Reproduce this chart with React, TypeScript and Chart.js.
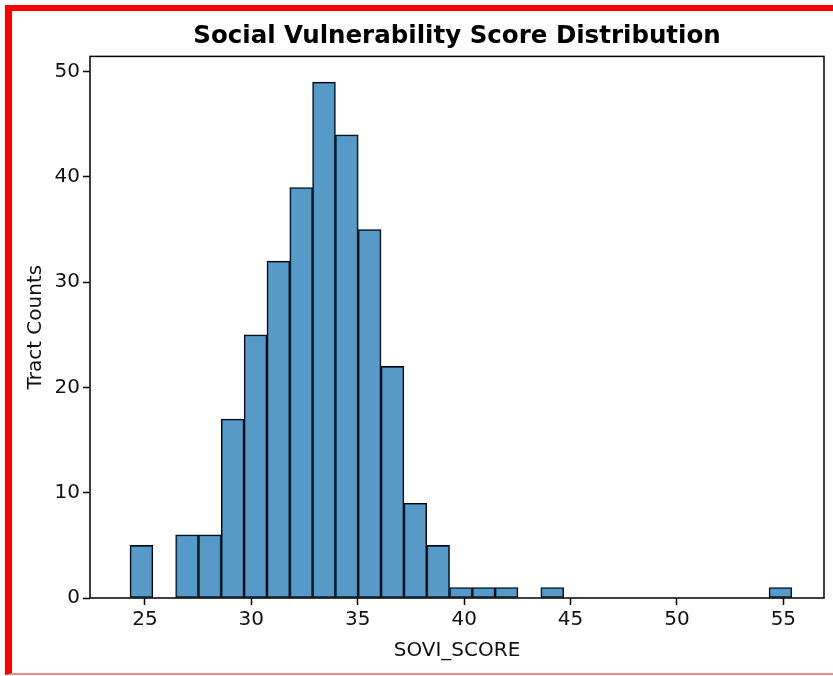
import React, { useEffect, useRef } from "react";
import { Chart, registerables } from "chart.js";

Chart.register(...registerables);

// Histogram data (29 equal-width bins between the min and max score)
const binMin = 24.3;
const binMax = 55.4;
const counts = [5, 0, 6, 6, 17, 25, 32, 39, 49, 44, 35, 22, 9, 5, 1, 1, 1, 0, 1, 0, 0, 0, 0, 0, 0, 0, 0, 0, 1];

const xTicks = [25, 30, 35, 40, 45, 50, 55];
const yTicks = [0, 10, 20, 30, 40, 50];
const xLimits = [22.42, 56.91];
const yLimits = [0, 51.45];

const titleText = "Social Vulnerability Score Distribution";
const xLabel = "SOVI_SCORE";
const yLabel = "Tract Counts";

const FONT = "'DejaVu Sans', 'Liberation Sans', sans-serif";

const framePlugin = {
  id: "frame",
  afterDatasetsDraw(chart: any) {
    const { ctx, chartArea: a } = chart;
    ctx.save();
    ctx.strokeStyle = "#000";
    ctx.lineWidth = 1.5;
    ctx.strokeRect(a.left, a.top, a.right - a.left, a.bottom - a.top);
    ctx.restore();
  },
};

export default function App() {
  const ref = useRef<HTMLCanvasElement | null>(null);

  useEffect(() => {
    if (!ref.current) return;
    const width = (binMax - binMin) / counts.length;
    const points = counts
      .map((c, i) => ({ x: binMin + (i + 0.5) * width, y: c }))
      .filter((p) => p.y > 0);

    const chart = new Chart(ref.current, {
      type: "bar",
      data: {
        datasets: [
          {
            data: points as any,
            backgroundColor: "rgba(31,119,180,0.75)",
            borderColor: "#000",
            borderWidth: 1.2,
            borderSkipped: false,
            barPercentage: 1,
            categoryPercentage: 1,
          },
        ],
      },
      options: {
        responsive: false,
        animation: false,
        layout: { padding: { left: 0, right: 9, top: 0, bottom: 0 } },
        plugins: {
          legend: { display: false },
          tooltip: { enabled: false },
          title: {
            display: true,
            fullSize: false,
            text: titleText,
            color: "#000",
            font: { family: FONT, size: 24.5, weight: "bold" },
            padding: { top: 22, bottom: 5 },
          },
        },
        scales: {
          x: {
            type: "linear",
            offset: false,
            min: xLimits[0],
            max: xLimits[1],
            afterBuildTicks: (scale: any) => {
              scale.ticks = xTicks.map((v) => ({ value: v }));
            },
            afterFit: (scale: any) => {
              scale.height = 78;
            },
            grid: {
              display: true,
              offset: false,
              drawOnChartArea: false,
              drawTicks: true,
              tickLength: 7,
              tickColor: "#000",
              tickWidth: 1.5,
            },
            border: { display: false },
            ticks: {
              color: "#111",
              padding: 3,
              maxRotation: 0,
              font: { family: FONT, size: 20 },
              callback: (v: any) => String(v),
            },
            title: {
              display: true,
              text: xLabel,
              color: "#111",
              font: { family: FONT, size: 20 },
              padding: { top: 4, bottom: 13 },
            },
          },
          y: {
            type: "linear",
            min: yLimits[0],
            max: yLimits[1],
            afterBuildTicks: (scale: any) => {
              scale.ticks = yTicks.map((v) => ({ value: v }));
            },
            afterFit: (scale: any) => {
              scale.width = 90;
            },
            grid: {
              display: true,
              drawOnChartArea: false,
              drawTicks: true,
              tickLength: 7,
              tickColor: "#000",
              tickWidth: 1.5,
            },
            border: { display: false },
            ticks: {
              color: "#111",
              padding: 3,
              font: { family: FONT, size: 20 },
              callback: (v: any) => String(v),
            },
            title: {
              display: true,
              text: yLabel,
              color: "#111",
              font: { family: FONT, size: 20 },
              padding: { top: 24, bottom: 4 },
            },
          },
        },
      },
      plugins: [framePlugin],
    });
    return () => chart.destroy();
  }, []);

  return (
    <div
      style={{
        position: "fixed",
        left: 0,
        top: 0,
        width: 833,
        height: 676,
        overflow: "hidden",
        background: "#fff",
      }}
    >
      <div
        style={{
          position: "absolute",
          left: 5,
          top: 5,
          width: 900,
          height: 662,
          borderLeft: "7px solid #ff0000",
          borderTop: "6px solid #ff0000",
          borderBottom: "2px solid #f28b8b",
        }}
      />
      <canvas
        ref={ref}
        width={833}
        height={676}
        style={{ position: "absolute", left: 0, top: 0, display: "block" }}
      />
    </div>
  );
}
